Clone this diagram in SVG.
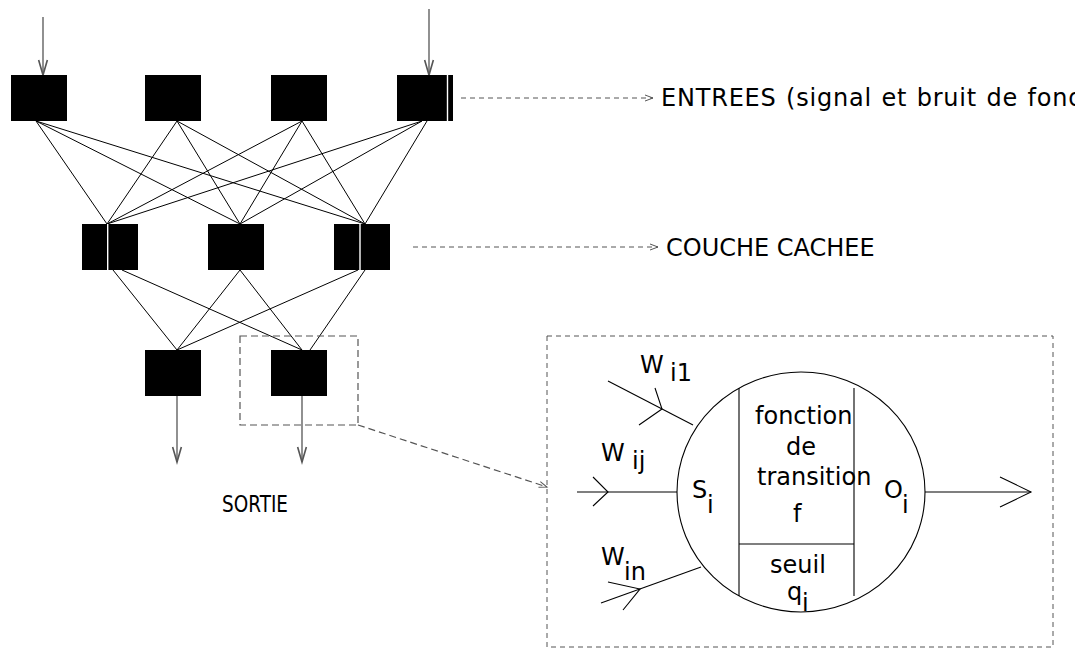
<svg xmlns="http://www.w3.org/2000/svg" width="1075" height="648" viewBox="0 0 1075 648">
<style>
  .box{fill:#000}
  .gap{stroke:#fff;stroke-width:1.4}
  .edge{stroke:#000;stroke-width:1;fill:none}
  .arr{stroke:#555;stroke-width:1.3;fill:none}
  .dash{stroke:#555;stroke-width:1;fill:none;stroke-dasharray:5 4}
  .dash2{stroke:#555;stroke-width:1.2;fill:none;stroke-dasharray:7 4}
  .ln{stroke:#000;stroke-width:1.1;fill:none}
  text{font-family:"DejaVu Sans",sans-serif;font-size:24px;fill:#000}
  text.sortie{font-size:23px}
</style>
<defs>
  <marker id="mSmall" markerUnits="userSpaceOnUse" markerWidth="20" markerHeight="20" viewBox="-14 -6 16 12" refX="0" refY="0" orient="auto">
    <path d="M-12,-3.5 L0,0 L-12,3.5" fill="none" stroke="#555" stroke-width="1.3"/>
  </marker>
  <marker id="mDash" markerUnits="userSpaceOnUse" markerWidth="14" markerHeight="10" viewBox="-10 -5 12 10" refX="0" refY="0" orient="auto">
    <path d="M-8,-3 L0,0 L-8,3" fill="none" stroke="#555" stroke-width="1"/>
  </marker>
</defs>
<rect width="1075" height="648" fill="#fff"/>

<g id="connectors">
  <!-- input to hidden -->
  <line class="edge" x1="36" y1="121" x2="107" y2="224"/>
  <line class="edge" x1="36" y1="121" x2="240" y2="224"/>
  <line class="edge" x1="36" y1="121" x2="365" y2="224"/>
  <line class="edge" x1="177" y1="121" x2="107" y2="224"/>
  <line class="edge" x1="177" y1="121" x2="240" y2="224"/>
  <line class="edge" x1="177" y1="121" x2="365" y2="224"/>
  <line class="edge" x1="302" y1="121" x2="107" y2="224"/>
  <line class="edge" x1="302" y1="121" x2="240" y2="224"/>
  <line class="edge" x1="302" y1="121" x2="365" y2="224"/>
  <line class="edge" x1="422" y1="121" x2="107" y2="224"/>
  <line class="edge" x1="422" y1="121" x2="240" y2="224"/>
  <line class="edge" x1="427" y1="121" x2="365" y2="224"/>
  <!-- hidden to output -->
  <line class="edge" x1="113" y1="270" x2="177" y2="350"/>
  <line class="edge" x1="122" y1="270" x2="302" y2="350"/>
  <line class="edge" x1="240" y1="270" x2="177" y2="350"/>
  <line class="edge" x1="240" y1="270" x2="302" y2="350"/>
  <line class="edge" x1="358" y1="270" x2="177" y2="350"/>
  <line class="edge" x1="365" y1="270" x2="310" y2="350"/>
  <!-- inputs / outputs arrows -->
  <line class="arr" x1="43" y1="17" x2="43" y2="75" marker-end="url(#mSmall)"/>
  <line class="arr" x1="429" y1="9" x2="429" y2="75" marker-end="url(#mSmall)"/>
  <line class="arr" x1="177" y1="396" x2="177" y2="462" marker-end="url(#mSmall)"/>
  <line class="arr" x1="302" y1="396" x2="302" y2="462" marker-end="url(#mSmall)"/>
  <!-- dashed label arrows -->
  <line class="dash" x1="461" y1="98" x2="653" y2="98" marker-end="url(#mDash)"/>
  <line class="dash" x1="413" y1="247" x2="658" y2="247" marker-end="url(#mDash)"/>
  <line class="dash2" x1="358" y1="425" x2="547" y2="487" marker-end="url(#mDash)"/>
  <!-- neuron detail inputs/outputs -->
  <line class="ln" x1="608" y1="381" x2="693" y2="425"/>
  <polyline class="ln" points="655,388 662,409 639,425"/>
  <line class="ln" x1="577" y1="492" x2="677" y2="492"/>
  <polyline class="ln" points="593,477 608,492 593,506"/>
  <line class="ln" x1="601" y1="603" x2="701" y2="567"/>
  <polyline class="ln" points="608,582 640,589 623,610"/>
  <line class="ln" x1="925" y1="492" x2="1031" y2="492"/>
  <polyline class="ln" points="1000,477 1031,492 1000,507"/>
</g>

<g id="in1"><rect class="box" x="11" y="75" width="56" height="46"/></g>
<g id="in2"><rect class="box" x="145" y="75" width="56" height="46"/></g>
<g id="in3"><rect class="box" x="271" y="75" width="56" height="46"/></g>
<g id="in4"><rect class="box" x="397" y="75" width="56" height="46"/><line class="gap" x1="447.5" y1="75" x2="447.5" y2="121"/></g>

<g id="hid1"><rect class="box" x="82" y="224" width="56" height="46"/><line class="gap" x1="107.7" y1="224" x2="107.7" y2="270"/></g>
<g id="hid2"><rect class="box" x="208" y="224" width="56" height="46"/></g>
<g id="hid3"><rect class="box" x="334" y="224" width="56" height="46"/><line class="gap" x1="360" y1="224" x2="360" y2="270"/></g>

<g id="out1"><rect class="box" x="145" y="350" width="56" height="46"/></g>
<g id="out2"><rect class="box" x="271" y="350" width="56" height="46"/></g>

<g id="zoom-frame"><rect class="dash2" x="240" y="336" width="118" height="89"/></g>

<g id="labels">
  <text x="661" y="106" letter-spacing="0.8" word-spacing="1">ENTREES (signal et bruit de fond)</text>
  <text x="666" y="256">COUCHE CACHEE</text>
  <text class="sortie" x="222" y="512" textLength="66" lengthAdjust="spacingAndGlyphs">SORTIE</text>
</g>

<g id="neuron-detail">
  <rect class="dash" x="547" y="336" width="506" height="311"/>
  <ellipse class="ln" cx="801" cy="492" rx="124" ry="120"/>
  <line class="ln" x1="739" y1="388" x2="739" y2="596"/>
  <line class="ln" x1="854" y1="388" x2="854" y2="596"/>
  <line class="ln" x1="739" y1="544" x2="854" y2="544"/>
  <text x="640" y="373">W</text><text x="670" y="381">i1</text>
  <text x="601" y="461">W</text><text x="632" y="469">ij</text>
  <text x="601" y="565">W</text><text x="624" y="580">in</text>
  <text x="692" y="498">S</text><text x="707" y="513">i</text>
  <text x="884" y="498">O</text><text x="902" y="513">i</text>
  <text x="755" y="424">fonction</text>
  <text x="786" y="455">de</text>
  <text x="757" y="485">transition</text>
  <text x="793" y="522">f</text>
  <text x="770" y="573">seuil</text>
  <text x="787" y="600">q</text><text x="802" y="611">i</text>
</g>
</svg>
